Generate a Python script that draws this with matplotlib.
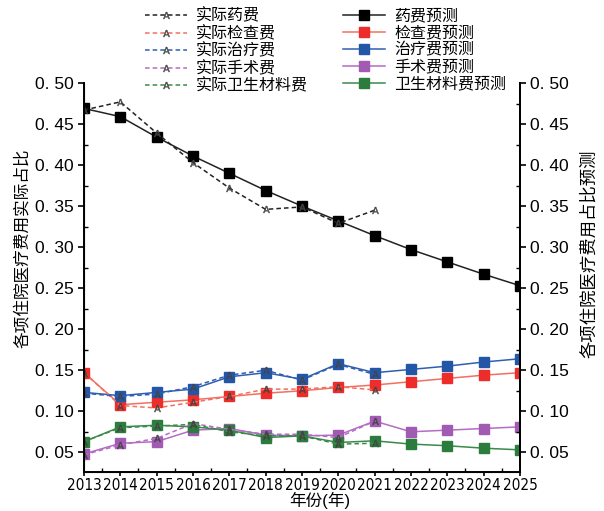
import matplotlib
matplotlib.use("Agg")
import matplotlib.pyplot as plt
from matplotlib import font_manager
from matplotlib.ticker import MultipleLocator, FuncFormatter

plt.rcParams["font.family"] = ["Liberation Sans", "Noto Sans CJK SC", "DejaVu Sans"]

years = list(range(2013, 2026))
years_act = list(range(2013, 2022))

# forecast shares 2013-2025
drug_fc = [0.469, 0.459, 0.434, 0.411, 0.390, 0.369, 0.350, 0.332, 0.314, 0.297, 0.282, 0.267, 0.253]
exam_fc = [0.147, 0.108, 0.111, 0.114, 0.118, 0.122, 0.125, 0.129, 0.132, 0.136, 0.140, 0.144, 0.147]
treat_fc = [0.123, 0.119, 0.123, 0.127, 0.142, 0.147, 0.139, 0.158, 0.147, 0.151, 0.155, 0.160, 0.164]
surg_fc = [0.048, 0.061, 0.063, 0.077, 0.079, 0.071, 0.070, 0.071, 0.088, 0.075, 0.077, 0.079, 0.081]
mat_fc = [0.063, 0.081, 0.083, 0.081, 0.077, 0.068, 0.070, 0.062, 0.064, 0.060, 0.058, 0.055, 0.053]

# actual shares 2013-2021
drug_act = [0.467, 0.477, 0.439, 0.403, 0.372, 0.346, 0.349, 0.329, 0.345]
exam_act = [0.147, 0.107, 0.104, 0.111, 0.118, 0.127, 0.127, 0.130, 0.126]
treat_act = [0.122, 0.118, 0.121, 0.130, 0.144, 0.150, 0.138, 0.157, 0.145]
surg_act = [0.047, 0.059, 0.067, 0.085, 0.078, 0.072, 0.072, 0.068, 0.088]
mat_act = [0.063, 0.080, 0.082, 0.084, 0.075, 0.070, 0.070, 0.060, 0.061]

act_labels = ["实际药费", "实际检查费", "实际治疗费", "实际手术费", "实际卫生材料费"]
fc_labels = ["药费预测", "检查费预测", "治疗费预测", "手术费预测", "卫生材料费预测"]

line_cols = ["#222222", "#f27060", "#2f5fb0", "#b56cc4", "#3a8a4a"]
mark_cols = ["#000000", "#ee2d2a", "#2456a8", "#a25bb3", "#2c7c3e"]

# narrow font for the year labels if one is installed
names = {f.name for f in font_manager.fontManager.ttflist}
stretches = {(f.name, f.stretch) for f in font_manager.fontManager.ttflist}
if "Liberation Sans Narrow" in names:
    xfont = dict(family="Liberation Sans Narrow", fontsize=12)
elif ("DejaVu Sans", "condensed") in stretches:
    xfont = dict(family="DejaVu Sans", fontstretch="condensed", fontsize=11)
else:
    xfont = dict(family="Liberation Sans", fontsize=10.5)

fig = plt.figure(figsize=(6.04, 5.11), dpi=100)
ax = fig.add_axes([84 / 604, 39 / 511, 436 / 604, 389 / 511])

act_handles = []
for vals, c, lab in zip([drug_act, exam_act, treat_act, surg_act, mat_act], line_cols, act_labels):
    h, = ax.plot(years_act, vals, ls=(0, (3, 2)), lw=1.1, color=c, marker=r"$\mathrm{A}$",
                 ms=5, mec="#444444", mfc="#444444", mew=0.3, label=lab, zorder=3)
    act_handles.append(h)

fc_handles = []
for vals, lc, mc, lab in zip([drug_fc, exam_fc, treat_fc, surg_fc, mat_fc], line_cols, mark_cols, fc_labels):
    h, = ax.plot(years, vals, ls="-", lw=1.1, color=lc, marker="s", ms=6.5,
                 mfc=mc, mec=mc, label=lab, zorder=2)
    fc_handles.append(h)

ax.set_xlim(2013, 2025)
ax.set_ylim(0.026, 0.50)
ax.spines["top"].set_visible(False)
for s in ("left", "right", "bottom"):
    ax.spines[s].set_linewidth(1.4)

ax.xaxis.set_major_locator(MultipleLocator(1))
ax.xaxis.set_minor_locator(MultipleLocator(0.5))
ax.yaxis.set_major_locator(MultipleLocator(0.05))
ax.yaxis.set_minor_locator(MultipleLocator(0.025))
fmt = FuncFormatter(lambda v, p: f"{v:.2f}".replace(".", ". "))
ax.yaxis.set_major_formatter(fmt)
ax.tick_params(axis="both", which="major", direction="out", length=4, width=1.2)
ax.tick_params(axis="both", which="minor", direction="in", length=3, width=1.0)
ax.tick_params(axis="y", which="major", labelsize=12.5)
ax.tick_params(axis="x", which="major", length=3, pad=1)
for t in ax.get_xticklabels():
    t.set(**xfont)

ax2 = ax.twinx()
ax2.set_ylim(ax.get_ylim())
ax2.spines["top"].set_visible(False)
ax2.spines["right"].set_linewidth(1.4)
ax2.yaxis.set_major_locator(MultipleLocator(0.05))
ax2.yaxis.set_minor_locator(MultipleLocator(0.025))
ax2.yaxis.set_major_formatter(fmt)
ax2.tick_params(axis="y", which="major", direction="out", length=4, width=1.2, labelsize=12.5)
ax2.tick_params(axis="y", which="minor", direction="in", length=3, width=1.0)

ax.set_ylabel("各项住院医疗费用实际占比", fontsize=12)
ax.yaxis.set_label_coords(-0.125, 0.575)
ax2.set_ylabel("各项住院医疗费用占比预测", fontsize=12.5, rotation=90)
ax2.yaxis.set_label_coords(1.14, 0.56)
fig.text(320 / 604, 1 - 500 / 511, "年份(年)", fontsize=12, ha="center", va="center")

fig.legend(act_handles + fc_handles, act_labels + fc_labels, ncol=2, frameon=False,
           loc="upper left", bbox_to_anchor=(145 / 604, 1 - 8 / 511),
           borderpad=0, borderaxespad=0, fontsize=11.5, labelspacing=0.12,
           handlelength=2.6, handletextpad=0.6, columnspacing=2.2)

fig.savefig("out.png", dpi=100)
